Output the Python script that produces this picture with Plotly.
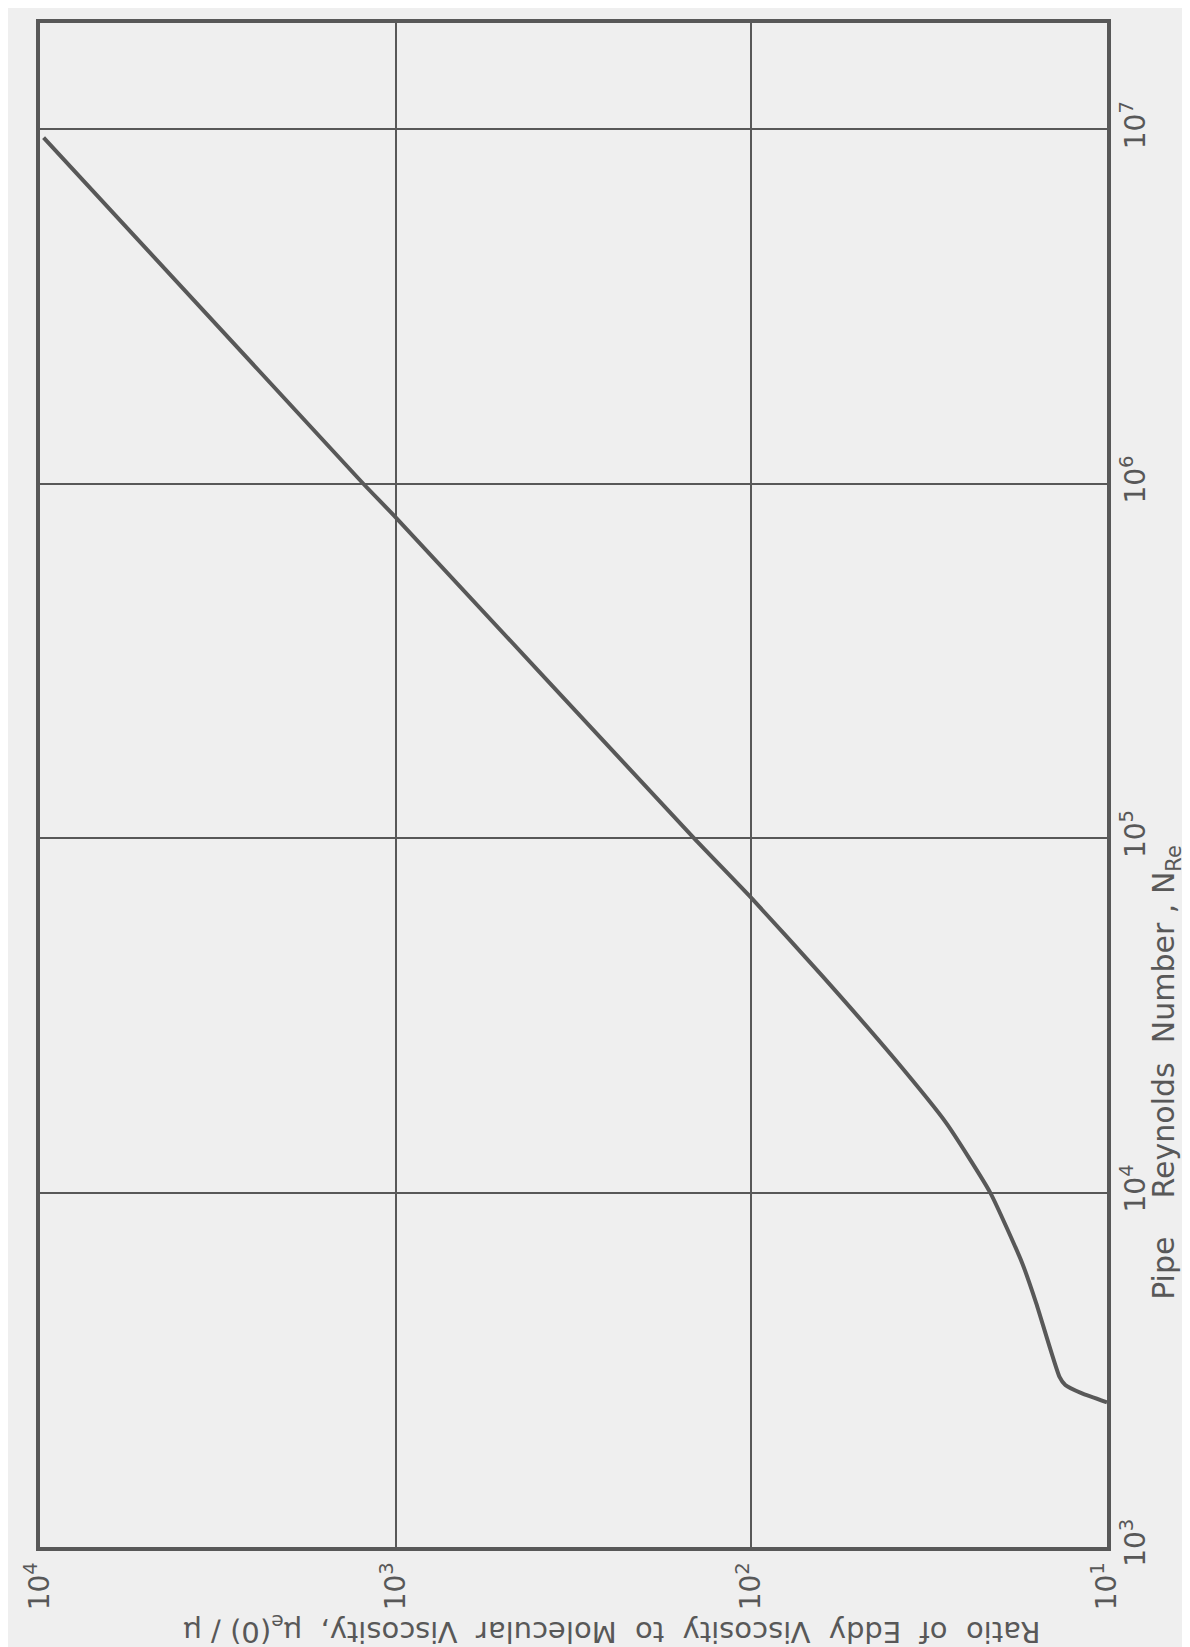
import plotly.graph_objects as go

# Data (ratio of eddy to molecular viscosity vs pipe Reynolds number)
ratio = [9770, 1233, 1000, 145, 100, 63.1, 39.8, 28.3, 21.3, 17.3, 15.8, 13.6, 13.1, 11.8, 10.0]
reynolds = [9.48e6, 1.0e6, 8.04e5, 1.0e5, 6.78e4, 4.08e4, 2.40e4, 1.57e4, 1.0e4, 6310, 4864, 3020, 2864, 2716, 2559]

ratio_ticks = [1e4, 1e3, 1e2, 1e1]
ratio_ticktext = ["10<sup>4</sup>", "10<sup>3</sup>", "10<sup>2</sup>", "10<sup>1</sup>"]
re_ticks = [1e3, 1e4, 1e5, 1e6, 1e7]
re_ticktext = ["10<sup>3</sup>", "10<sup>4</sup>", "10<sup>5</sup>", "10<sup>6</sup>", "10<sup>7</sup>"]

NB = "\u00a0"
x_title = (f"Ratio{NB}{NB}of{NB}{NB}Eddy{NB}{NB}Viscosity{NB}{NB}to{NB}{NB}Molecular"
           f"{NB}{NB}Viscosity,{NB}{NB}\u03bc<sub>e</sub>(0){NB}/{NB}\u03bc")
y_title = f"Pipe{NB}{NB}{NB}{NB}Reynolds{NB}{NB}Number{NB},{NB}N<sub>Re</sub>"

INK = "#585858"
BG = "#efefef"
FONT = "DejaVu Sans"

fig = go.Figure()
fig.add_trace(go.Scatter(
    x=ratio, y=reynolds, mode="lines",
    line=dict(color=INK, width=4, shape="spline", smoothing=0.5),
    showlegend=False, hoverinfo="skip",
))

fig.update_layout(
    width=1190, height=1647,
    margin=dict(l=24, r=91, t=11, b=108),
    paper_bgcolor=BG, plot_bgcolor=BG,
    font=dict(family=FONT, color=INK, size=26),
    xaxis=dict(
        type="log", range=[4, 1],
        tickvals=ratio_ticks, ticktext=ratio_ticktext, tickangle=-90,
        tickfont=dict(size=28, family=FONT, color=INK),
        showgrid=True, gridcolor=INK, gridwidth=2,
        showline=True, linecolor=INK, linewidth=4, mirror=True,
        ticks="", zeroline=False,
    ),
    yaxis=dict(
        type="log", range=[3, 7.30], side="right",
        tickvals=re_ticks, ticktext=re_ticktext, tickangle=-90,
        tickfont=dict(size=28, family=FONT, color=INK),
        showgrid=True, gridcolor=INK, gridwidth=2,
        showline=True, linecolor=INK, linewidth=4, mirror=True,
        ticks="", zeroline=False,
    ),
    annotations=[
        dict(text=x_title, textangle=180, xref="paper", yref="paper",
             x=(600 - 24) / 1075, y=-(1622 - 1539) / 1528,
             xanchor="center", yanchor="middle", showarrow=False,
             font=dict(size=29, family=FONT, color=INK)),
        dict(text=y_title, textangle=-90, xref="paper", yref="paper",
             x=(1158 - 24) / 1075, y=(1539 - 1063) / 1528,
             xanchor="center", yanchor="middle", showarrow=False,
             font=dict(size=30, family=FONT, color=INK)),
    ],
)

fig.write_html("out.html")
